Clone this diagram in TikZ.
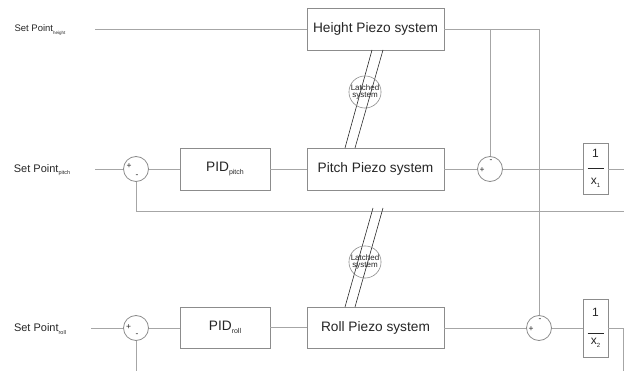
\documentclass[tikz,border=0pt]{standalone}
\usepackage{fontspec}
\setmainfont{Liberation Sans}
\definecolor{linegray}{HTML}{A6A6A6}
\definecolor{boxgray}{HTML}{8C8C8C}
\definecolor{textc}{HTML}{262626}
\newcommand{\subtx}[2]{\raisebox{-0.45ex}{\fontsize{#1}{#1}\selectfont #2}}
\begin{document}
\begin{tikzpicture}[x=1pt,y=-1pt,
  conn/.style={draw=linegray, line width=0.8pt},
  latchline/.style={draw=black!85, line width=0.6pt},
  blk/.style={draw=boxgray, line width=0.8pt, fill=white, inner sep=0pt,
    minimum width=137pt, minimum height=42pt, text=textc,
    font=\fontsize{13.7}{15}\selectfont},
  pidbox/.style={blk, minimum width=90pt},
  fracbox/.style={draw=boxgray, line width=0.8pt, fill=white, inner sep=0pt,
    minimum width=25pt},
  fractext/.style={inner sep=0pt, text=textc, font=\fontsize{12}{12}\selectfont},
  sumc/.style={circle, draw=boxgray, line width=0.8pt, fill=white,
    minimum size=25pt, inner sep=0pt},
  sign/.style={inner sep=0pt, text=textc, font=\fontsize{8.5}{8.5}\selectfont},
  splabel/.style={inner sep=0pt, text=textc, font=\fontsize{11}{12}\selectfont},
  latchc/.style={circle, draw=boxgray, line width=0.6pt, minimum size=30pt,
    inner sep=0pt, align=center, text=textc, font=\fontsize{8}{7.5}\selectfont}
]
\useasboundingbox (0,0) rectangle (624,371);

% ---- Height row ----
\node[splabel, font=\fontsize{9.5}{10}\selectfont] (sph) at (40,30) {Set Point\subtx{4.5}{height}};
\coordinate (sphend) at (95,29);
\node[blk] (hp) at (375.5,29) {Height Piezo system};

% ---- Pitch row ----
\node[splabel] (spp) at (42,170) {Set Point\subtx{5.5}{pitch}};
\coordinate (sppend) at (95,169);
\node[sumc] (ps1) at (136,169) {};
\node[sign] (ps1p) at (129,166) {+};
\node[sign] (ps1m) at (137,176.5) {-};
\node[pidbox] (pidp) at (225,169) {PID\subtx{7}{pitch}};
\node[blk] (pp) at (375.5,169) {Pitch Piezo system};
\node[sumc] (ps2) at (490,169) {};
\node[sign] (ps2p) at (482,170.5) {+};
\node[sign] (ps2m) at (491,161) {-};
\node[fracbox, minimum height=51pt] (f1) at (595.5,168.5) {};
\node[fractext] (f1n) at (595.5,153) {1};
\node[fractext] (f1d) at (595.5,183) {x\subtx{6}{1}};
\draw[draw=textc, line width=0.6pt] ([xshift=-8pt]f1.center) -- ([xshift=8pt]f1.center);
\coordinate (pout) at (624,169);
\coordinate (fbend) at (624,211);

% ---- Roll row ----
\node[splabel] (spr) at (40,329) {Set Point\subtx{5.5}{roll}};
\coordinate (sprend) at (91,328);
\node[sumc] (rs1) at (136,328) {};
\node[sign] (rs1p) at (128.5,327.5) {+};
\node[sign] (rs1m) at (137,335.5) {-};
\node[pidbox, minimum height=41pt] (pidr) at (225,327.5) {PID\subtx{7}{roll}};
\node[blk, minimum height=41pt] (rp) at (375.5,327.5) {Roll Piezo system};
\node[sumc] (rs2) at (539,328) {};
\node[sign] (rs2p) at (531,329.5) {+};
\node[sign] (rs2m) at (540,320) {-};
\node[fracbox, minimum height=58pt] (f2) at (595.5,328) {};
\node[fractext] (f2n) at (595.5,312) {1};
\draw[draw=textc, line width=0.6pt] ([xshift=-8pt,yshift=-5pt]f2.center) -- ([xshift=8pt,yshift=-5pt]f2.center);
\node[fractext] (f2d) at (595.5,343) {x\subtx{6}{2}};
\coordinate (rcorner) at (623,328);
\coordinate (rout) at (623,371);
\coordinate (rfb) at (136,371);
\coordinate (tr) at (539,29);

% ---- connectors ----
\draw[conn] (sphend) -- (hp.west);
\draw[conn] (hp.east) -- (tr) -- (rs2.north);
\draw[conn] (ps2 |- hp.east) -- (ps2.north);

\draw[conn] (sppend) -- (ps1.west);
\draw[conn] (ps1.east) -- (pidp.west);
\draw[conn] (pidp.east) -- (pp.west);
\draw[conn] (pp.east) -- (ps2.west);
\draw[conn] (ps2.east) -- (f1.west |- ps2.east);
\draw[conn] (f1.east |- pout) -- (pout);
\draw[conn] (ps1.south) -- (ps1 |- fbend) -- (fbend);

\draw[conn] (sprend) -- (rs1.west);
\draw[conn] (rs1.east) -- (pidr.west |- rs1.east);
\draw[conn] (pidr.east) -- (rp.west);
\draw[conn] (rp.east |- rs2.west) -- (rs2.west);
\draw[conn] (rs2.east) -- (f2.west);
\draw[conn] (f2.east) -- (rcorner) -- (rout);
\draw[conn] (rs1.south) -- (rfb);

% ---- latched systems ----
\coordinate (l1a) at (372,50);
\coordinate (l1b) at (345,148);
\coordinate (l1c) at (383,50);
\coordinate (l1d) at (355,148);
\draw[latchline] (l1a) -- (l1b);
\draw[latchline] (l1c) -- (l1d);
\node[latchc] (latch1) at (365,92) {Latched\\system};

\coordinate (l2a) at (373,208);
\coordinate (l2b) at (345,307);
\coordinate (l2c) at (383,208);
\coordinate (l2d) at (355,307);
\draw[latchline] (l2a) -- (l2b);
\draw[latchline] (l2c) -- (l2d);
\node[latchc] (latch2) at (365,262) {Latched\\system};
\end{tikzpicture}
\end{document}
